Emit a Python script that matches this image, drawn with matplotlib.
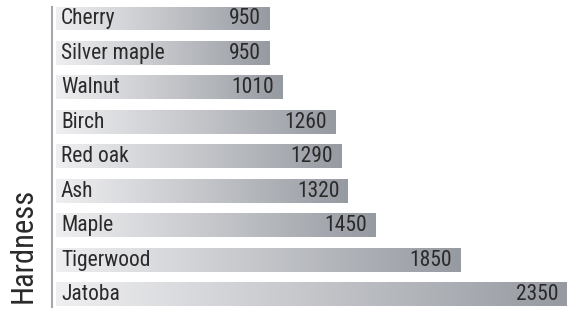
import numpy as np
import matplotlib
matplotlib.use('Agg')
import matplotlib.pyplot as plt
from matplotlib.colors import LinearSegmentedColormap

# 木材硬度数据
woods = ['Cherry', 'Silver maple', 'Walnut', 'Birch', 'Red oak', 'Ash', 'Maple', 'Tigerwood', 'Jatoba']
hardness = [950, 950, 1010, 1260, 1290, 1320, 1450, 1850, 2350]
axis_label = 'Hardness'

plt.rcParams['font.family'] = ['Roboto Condensed', 'DejaVu Sans Condensed', 'Liberation Sans Narrow',
                               'Liberation Sans']

# 条形从左侧留一点空白开始，为了放文字
pad = 57
bar_h = 0.68
cmap = LinearSegmentedColormap.from_list('bar', ['#efeff1', '#c4c6ca', '#969aa1'])
grad = np.linspace(0, 1, 256).reshape(1, -1)

fig = plt.figure(figsize=(5.67, 3.10), dpi=100)
ax = fig.add_axes([52 / 567, 0.011, 1 - 52 / 567, 0.968])

for i, (name, val) in enumerate(zip(woods, hardness)):
    ax.imshow(grad, cmap=cmap, aspect='auto', interpolation='bilinear',
              extent=[-pad, val, i + bar_h / 2, i - bar_h / 2], zorder=1)
    ax.annotate(name, xy=(-pad, i), xytext=(3.6, 0), textcoords='offset points',
                ha='left', va='center', fontsize=15.5, color='#2a2a2a', zorder=3)
    ax.annotate(str(val), xy=(val, i), xytext=(-5.8, 0), textcoords='offset points',
                ha='right', va='center', fontsize=15.5, color='#2a2a2a', zorder=3)

ax.set_xlim(-75.5, 2354)
ax.set_ylim(8.35, -0.35)
ax.set_xticks([])
ax.set_yticks([])
for s in ['top', 'right', 'bottom']:
    ax.spines[s].set_visible(False)
ax.spines['left'].set_color('#a3a6ab')
ax.spines['left'].set_linewidth(1.5)

fig.text(23 / 567, (310 - 245) / 310, axis_label, rotation=90, ha='center', va='center',
         fontsize=22, color='#2a2a2a')

fig.savefig('out.png', dpi=100)
